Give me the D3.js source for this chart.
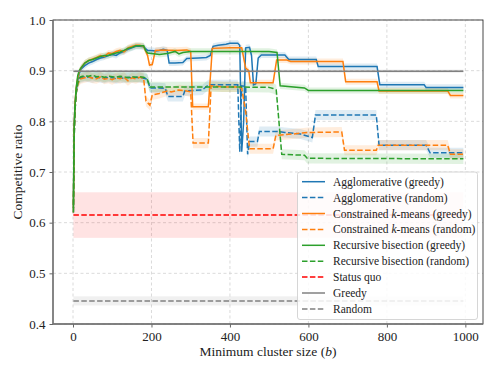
<!DOCTYPE html>
<html>
<head>
<meta charset="utf-8"/>
<script src="https://cdn.jsdelivr.net/npm/d3@7"></script>
<title>Competitive ratio vs minimum cluster size</title>
<style>
body { margin: 0; background: #fff; }
svg text { font-family: "Liberation Serif", "DejaVu Serif", serif !important; fill: #222; }
.grid line { stroke: #d0d0d0; stroke-dasharray: 3,2.5; stroke-width: 0.8; }
</style>
</head>
<body>
<svg width="498" height="374"></svg>
<script>
// [minimum cluster size b, competitive ratio]
var aggloGreedy = [[1,0.63],[3,0.79],[5,0.83],[8,0.86],[12,0.88],[16,0.895],[20,0.903],[30,0.91],[40,0.915],[50,0.918],
  [60,0.922],[70,0.925],[80,0.927],[90,0.93],[100,0.932],[110,0.93],[120,0.935],[130,0.938],[140,0.942],[150,0.945],
  [160,0.948],[170,0.948],[180,0.947],[190,0.94],[200,0.94],[210,0.939],[220,0.94],[230,0.942],[240,0.94],[245,0.915],
  [260,0.915],[280,0.916],[290,0.924],[320,0.925],[340,0.926],[350,0.93],[357,0.948],[370,0.95],[390,0.952],[400,0.954],
  [420,0.954],[425,0.95],[430,0.74],[435,0.8],[440,0.945],[450,0.946],[455,0.93],[460,0.872],[466,0.874],[472,0.925],
  [480,0.931],[540,0.931],[550,0.922],[620,0.922],[625,0.908],[775,0.908],[782,0.872],[895,0.872],[900,0.867],[995,0.867]];
var aggloRandom = [[1,0.62],[3,0.77],[5,0.82],[8,0.855],[12,0.875],[16,0.882],[20,0.886],[30,0.888],[40,0.887],[50,0.886],
  [60,0.888],[70,0.886],[80,0.885],[90,0.887],[100,0.886],[110,0.884],[120,0.886],[130,0.885],[140,0.887],[150,0.886],
  [160,0.887],[170,0.886],[180,0.885],[190,0.883],[196,0.866],[220,0.866],[235,0.865],[242,0.849],[280,0.849],[285,0.86],
  [330,0.862],[345,0.872],[420,0.872],[425,0.74],[430,0.87],[440,0.869],[445,0.735],[450,0.76],[470,0.76],[475,0.78],
  [520,0.78],[540,0.778],[580,0.775],[610,0.768],[618,0.8125],[773,0.8125],[780,0.753],[900,0.753],[910,0.738],[995,0.738]];
var kmeansGreedy = [[1,0.63],[3,0.79],[5,0.835],[8,0.865],[12,0.885],[16,0.898],[20,0.905],[30,0.915],[40,0.92],[50,0.923],
  [60,0.926],[70,0.93],[80,0.928],[90,0.935],[100,0.934],[110,0.938],[120,0.94],[130,0.937],[140,0.945],[150,0.948],
  [160,0.95],[170,0.95],[180,0.948],[190,0.93],[195,0.911],[202,0.912],[210,0.94],[230,0.941],[260,0.94],[290,0.941],
  [300,0.938],[305,0.829],[345,0.829],[355,0.944],[400,0.945],[430,0.945],[440,0.905],[448,0.9],[452,0.876],[510,0.876],
  [519,0.921],[545,0.921],[555,0.918],[688,0.918],[695,0.878],[775,0.878],[780,0.86],[955,0.86],[962,0.851],[995,0.851]];
var kmeansRandom = [[1,0.62],[3,0.77],[5,0.82],[8,0.855],[12,0.873],[16,0.88],[20,0.884],[30,0.886],[40,0.888],[50,0.885],
  [60,0.884],[70,0.888],[80,0.883],[90,0.885],[100,0.882],[110,0.886],[120,0.884],[130,0.887],[140,0.88],[150,0.886],
  [160,0.884],[170,0.887],[180,0.885],[186,0.84],[196,0.832],[202,0.852],[220,0.855],[240,0.86],[250,0.858],[270,0.862],
  [290,0.86],[300,0.858],[306,0.757],[345,0.757],[352,0.87],[380,0.868],[420,0.868],[430,0.865],[440,0.82],[450,0.746],
  [510,0.746],[517,0.772],[560,0.775],[600,0.778],[685,0.779],[692,0.743],[773,0.743],[778,0.753],[955,0.753],[962,0.735],[995,0.735]];
var bisectGreedy = [[1,0.63],[3,0.79],[5,0.83],[8,0.865],[12,0.89],[16,0.9],[20,0.905],[30,0.915],[40,0.92],[50,0.922],
  [60,0.925],[70,0.928],[80,0.93],[90,0.93],[100,0.933],[110,0.935],[120,0.937],[130,0.94],[140,0.944],[150,0.946],
  [160,0.949],[180,0.949],[185,0.94],[190,0.935],[220,0.932],[240,0.934],[250,0.936],[260,0.938],[270,0.933],[280,0.936],
  [300,0.938],[400,0.938],[500,0.938],[520,0.936],[528,0.87],[590,0.866],[600,0.861],[995,0.861]];
var bisectRandom = [[1,0.62],[3,0.77],[5,0.82],[8,0.855],[12,0.875],[16,0.885],[20,0.888],[30,0.89],[40,0.889],[50,0.891],
  [60,0.888],[70,0.889],[80,0.887],[90,0.889],[100,0.888],[110,0.887],[120,0.889],[130,0.888],[140,0.886],[150,0.888],
  [160,0.887],[170,0.888],[180,0.887],[188,0.885],[196,0.868],[300,0.868],[400,0.868],[500,0.867],[510,0.865],[518,0.862],
  [532,0.735],[590,0.733],[597,0.727],[995,0.726]];

// baselines: value and half-width of shaded band
var statusQuo = [0.615, 0.045];
var greedyRef = [0.899, 0.003];
var randomRef = [0.4455, 0.009];
var refRange = [1, 995];

var xTicks = [0, 200, 400, 600, 800, 1000];
var yTicks = [0.4, 0.5, 0.6, 0.7, 0.8, 0.9, 1.0];

var series = [
  {name: "Agglomerative (greedy)", data: aggloGreedy, color: "#1f77b4", dash: null, band: 0.006},
  {name: "Agglomerative (random)", data: aggloRandom, color: "#1f77b4", dash: "5.5,2.4", band: 0.01},
  {name: "Constrained k-means (greedy)", data: kmeansGreedy, color: "#ff7f0e", dash: null, band: 0.006},
  {name: "Constrained k-means (random)", data: kmeansRandom, color: "#ff7f0e", dash: "5.5,2.4", band: 0.01},
  {name: "Recursive bisection (greedy)", data: bisectGreedy, color: "#2ca02c", dash: null, band: 0.006},
  {name: "Recursive bisection (random)", data: bisectRandom, color: "#2ca02c", dash: "5.5,2.4", band: 0.01}
];
var refs = [
  {name: "Status quo", v: statusQuo, color: "#ff0000", dash: "5.5,2.4", fill: "#ff0000", alpha: 0.11},
  {name: "Greedy", v: greedyRef, color: "#808080", dash: null, fill: "#808080", alpha: 0.15},
  {name: "Random", v: randomRef, color: "#808080", dash: "5.5,2.4", fill: "#808080", alpha: 0.12}
];

var serif = "'Liberation Serif', 'DejaVu Serif', serif";
var svg = d3.select("svg");
var x = d3.scaleLinear().domain([-51, 1045]).range([53, 483]);
var y = d3.scaleLinear().domain([0.4, 1.0]).range([324, 20]);

// grid
svg.append("g").attr("class", "grid")
  .selectAll("line").data(xTicks).enter().append("line")
    .attr("x1", function(d) { return x(d); }).attr("x2", function(d) { return x(d); })
    .attr("y1", y.range()[0]).attr("y2", y.range()[1]);
svg.append("g").attr("class", "grid")
  .selectAll("line").data(yTicks).enter().append("line")
    .attr("y1", function(d) { return y(d); }).attr("y2", function(d) { return y(d); })
    .attr("x1", x.range()[0]).attr("x2", x.range()[1]);

var plot = svg.append("g");

var area = d3.area()
  .x(function(d) { return x(d[0]); });
var line = d3.line()
  .x(function(d) { return x(d[0]); })
  .y(function(d) { return y(d[1]); });

// reference bands
refs.forEach(function(r) {
  plot.append("rect")
    .attr("x", x(refRange[0])).attr("width", x(refRange[1]) - x(refRange[0]))
    .attr("y", y(r.v[0] + r.v[1])).attr("height", y(r.v[0] - r.v[1]) - y(r.v[0] + r.v[1]))
    .attr("fill", r.fill).attr("fill-opacity", r.alpha);
});

// confidence bands
series.forEach(function(s) {
  plot.append("path")
    .attr("d", area.y0(function(d) { return y(d[1] - s.band); })
                   .y1(function(d) { return y(d[1] + s.band); })(s.data))
    .attr("fill", s.color).attr("fill-opacity", 0.14);
});

series.forEach(function(s) {
  plot.append("path")
    .attr("d", line(s.data))
    .attr("fill", "none")
    .attr("stroke", s.color)
    .attr("stroke-width", 1.5)
    .attr("stroke-dasharray", s.dash);
});

refs.forEach(function(r) {
  plot.append("line")
    .attr("x1", x(refRange[0])).attr("x2", x(refRange[1]))
    .attr("y1", y(r.v[0])).attr("y2", y(r.v[0]))
    .attr("stroke", r.color).attr("stroke-width", 1.5)
    .attr("stroke-dasharray", r.dash);
});

// axes
var xAxis = svg.append("g").attr("transform", "translate(0,324)")
  .call(d3.axisBottom(x).tickValues(xTicks).tickSize(3.5).tickPadding(4).tickFormat(d3.format("d")));
var yAxis = svg.append("g").attr("transform", "translate(53,0)")
  .call(d3.axisLeft(y).tickValues(yTicks).tickSize(3.5).tickPadding(4).tickFormat(d3.format(".1f")));
[xAxis, yAxis].forEach(function(a) {
  a.attr("font-family", serif).attr("font-size", 13);
  a.select(".domain").remove();
  a.selectAll(".tick line").attr("stroke", "#555").attr("stroke-width", 0.9);
  a.selectAll(".tick text").attr("fill", "#222").style("font-family", serif).style("font-size", "13px");
});

// spines: left/bottom lighter like the reference
svg.append("rect")
  .attr("x", 53).attr("y", 20).attr("width", 430).attr("height", 304)
  .attr("fill", "none").attr("stroke", "#333").attr("stroke-width", 0.9);
svg.append("path")
  .attr("d", "M53,20V324H483")
  .attr("fill", "none").attr("stroke", "#777").attr("stroke-width", 1.3);

var xl = svg.append("text")
  .attr("x", 268).attr("y", 356)
  .attr("text-anchor", "middle")
  .style("font-family", serif).style("font-size", "13.5px");
xl.append("tspan").text("Minimum cluster size (");
xl.append("tspan").style("font-style", "italic").text("b");
xl.append("tspan").text(")");

svg.append("text")
  .attr("transform", "translate(22,172) rotate(-90)")
  .attr("text-anchor", "middle")
  .style("font-family", serif).style("font-size", "13.5px")
  .text("Competitive ratio");

// legend
var legend = svg.append("g");
legend.append("rect")
  .attr("x", 297.5).attr("y", 172).attr("width", 180).attr("height", 147.5)
  .attr("rx", 2.5)
  .attr("fill", "#fff").attr("fill-opacity", 0.85)
  .attr("stroke", "#ccc").attr("stroke-width", 0.8);

var entries = series.map(function(s) { return {name: s.name, color: s.color, dash: s.dash}; })
  .concat(refs.map(function(r) { return {name: r.name, color: r.color, dash: r.dash}; }));

var row = legend.selectAll("g.entry").data(entries).enter().append("g")
  .attr("class", "entry")
  .attr("transform", function(d, i) { return "translate(0," + (181.7 + i * 15.9) + ")"; });
row.append("line")
  .attr("x1", 302).attr("x2", 325)
  .attr("stroke", function(d) { return d.color; })
  .attr("stroke-width", 1.5)
  .attr("stroke-dasharray", function(d) { return d.dash; });
row.append("text")
  .attr("x", 333).attr("dy", "0.35em")
  .style("font-family", serif).style("font-size", "11.5px")
  .each(function(d) {
    var t = d3.select(this);
    var k = d.name.indexOf("k-means");
    if (k < 0) { t.text(d.name); return; }
    t.append("tspan").text(d.name.slice(0, k));
    t.append("tspan").style("font-style", "italic").text("k");
    t.append("tspan").text(d.name.slice(k + 1));
  });
</script>
</body>
</html>
